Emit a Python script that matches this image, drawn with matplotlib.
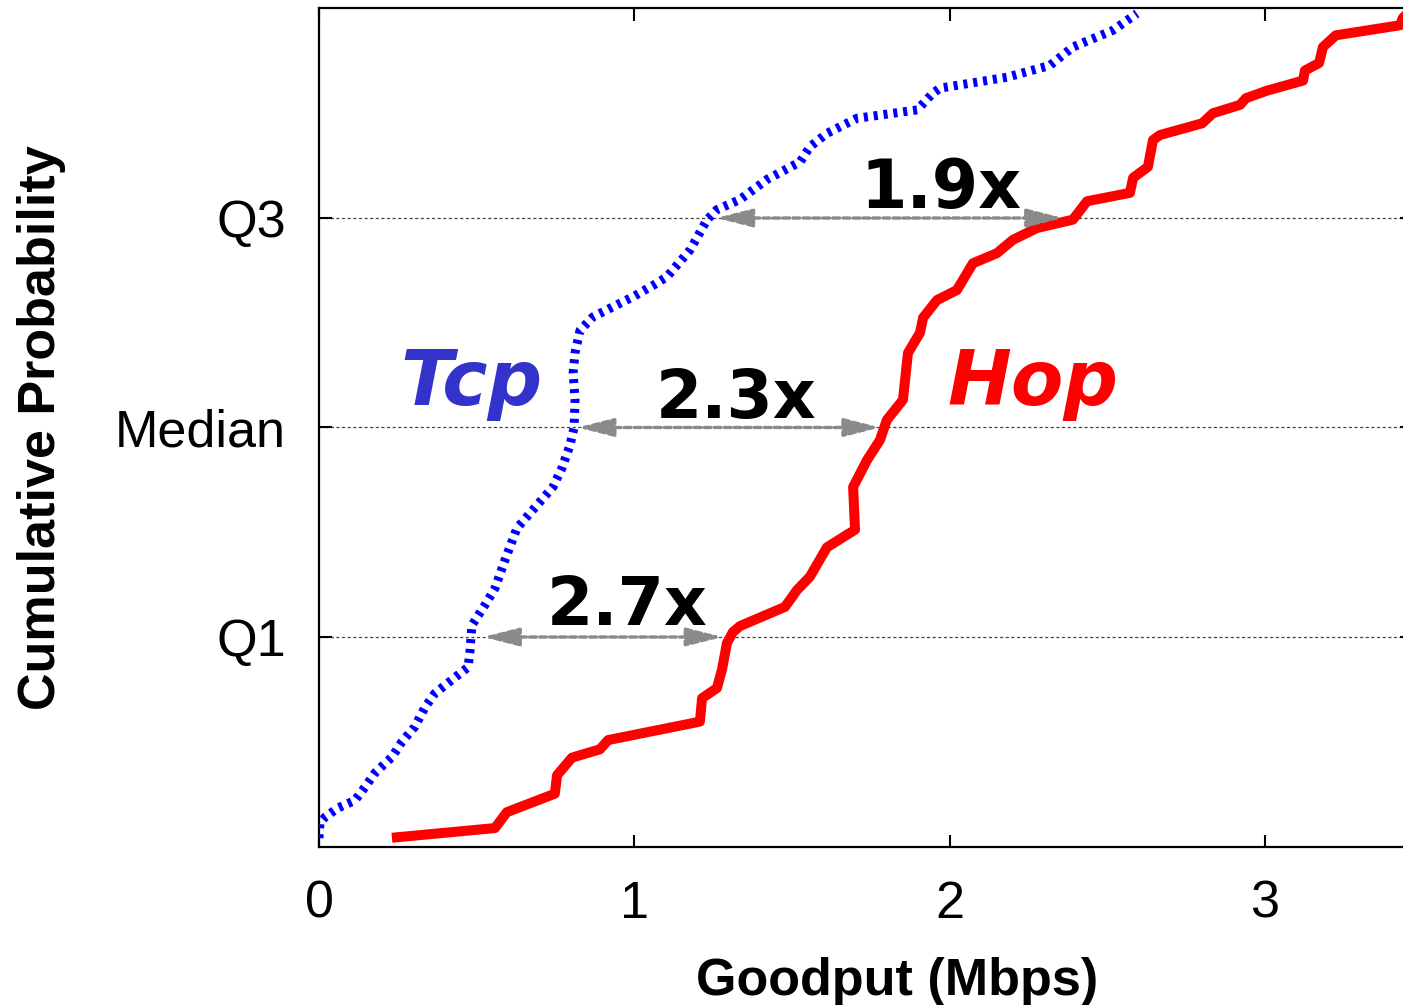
import numpy as np
import matplotlib
matplotlib.use("Agg")
import matplotlib.pyplot as plt

# CDF curves (goodput in Mbps, cumulative probability)
tcp_x = [0.0, 0.003, 0.019, 0.060, 0.114, 0.146, 0.178, 0.232, 0.263, 0.304,
         0.336, 0.368, 0.422, 0.473, 0.479, 0.485, 0.526, 0.558, 0.590, 0.628,
         0.679, 0.742, 0.771, 0.796, 0.809, 0.812, 0.806, 0.812, 0.828, 0.869,
         0.932, 0.996, 1.066, 1.104, 1.177, 1.231, 1.262, 1.335, 1.421, 1.526,
         1.557, 1.611, 1.706, 1.897, 1.947, 1.970, 2.182, 2.318, 2.391, 2.518,
         2.594]
tcp_y = [0.010, 0.028, 0.035, 0.046, 0.055, 0.071, 0.088, 0.107, 0.125, 0.143,
         0.166, 0.183, 0.199, 0.214, 0.234, 0.264, 0.288, 0.308, 0.342, 0.380,
         0.402, 0.429, 0.452, 0.479, 0.500, 0.533, 0.565, 0.589, 0.616, 0.632,
         0.644, 0.656, 0.671, 0.680, 0.712, 0.748, 0.760, 0.772, 0.796, 0.817,
         0.835, 0.851, 0.869, 0.879, 0.899, 0.905, 0.918, 0.932, 0.954, 0.974,
         0.994]

hop_x = [0.247, 0.558, 0.596, 0.748, 0.755, 0.802, 0.891, 0.917, 1.208, 1.215,
         1.262, 1.278, 1.294, 1.313, 1.335, 1.478, 1.516, 1.557, 1.611, 1.700,
         1.694, 1.738, 1.779, 1.801, 1.852, 1.868, 1.906, 1.916, 1.960, 2.023,
         2.074, 2.150, 2.201, 2.277, 2.391, 2.436, 2.572, 2.582, 2.629, 2.645,
         2.667, 2.801, 2.835, 2.921, 2.940, 3.007, 3.121, 3.127, 3.172, 3.184,
         3.225, 3.428, 3.438, 3.470]
hop_y = [0.011, 0.022, 0.041, 0.063, 0.085, 0.106, 0.116, 0.127, 0.149, 0.177,
         0.189, 0.211, 0.243, 0.256, 0.263, 0.286, 0.306, 0.322, 0.357, 0.378,
         0.429, 0.461, 0.485, 0.509, 0.533, 0.589, 0.613, 0.631, 0.652, 0.664,
         0.696, 0.708, 0.724, 0.738, 0.748, 0.770, 0.780, 0.798, 0.811, 0.843,
         0.849, 0.863, 0.875, 0.885, 0.893, 0.902, 0.914, 0.926, 0.935, 0.954,
         0.968, 0.980, 0.989, 1.0]

quantiles = [0.25, 0.5, 0.75]
quantile_labels = ["Q1", "Median", "Q3"]
x_ticks = [0, 1, 2, 3]

# gap arrows between the two curves at each quantile
arrow_lo = [0.52, 0.82, 1.26]
arrow_hi = [1.28, 1.78, 2.36]
ratio_labels = ["2.7x", "2.3x", "1.9x"]

fig = plt.figure(figsize=(14.03, 10.05), dpi=100)
ax = fig.add_axes([319 / 1403, (1005 - 846.5) / 1005, (1412 - 319) / 1403, 838 / 1005])

ax.set_xlim(0, (1412 - 319) / 315.3)
ax.set_ylim(0, 1)

for q in quantiles:
    ax.axhline(q, color="#444444", lw=0.9, ls=(0, (2.5, 2)), zorder=1)

ax.plot(hop_x, hop_y, color="#ff0000", lw=7.2, zorder=3)
ax.plot(tcp_x, tcp_y, color="#0000ff", lw=6.5, ls=(0, (0.45, 0.65)),
        dash_capstyle="butt", zorder=3)

label_x = [0.977, 1.322, 1.973]
label_y = [0.264, 0.511, 0.762]
for lo, hi, q, txt, tx, ty in zip(arrow_lo, arrow_hi, quantiles, ratio_labels, label_x, label_y):
    ax.text(tx, ty, txt, ha="center", va="baseline", fontsize=48,
            fontweight="bold", family="DejaVu Sans", color="black", zorder=2)
    ax.annotate("", xy=(hi, q), xytext=(lo, q),
                arrowprops=dict(arrowstyle="<|-|>,head_length=1.1,head_width=0.28",
                                mutation_scale=20, color="#8a8a8a", lw=2.4,
                                ls=(0, (2, 1)), shrinkA=0, shrinkB=0),
                zorder=4)

ax.text(0.482, 0.527, "Tcp", color="#3333cc", fontsize=55, fontweight="bold",
        style="italic", family="DejaVu Sans", ha="center", va="baseline")
ax.text(2.264, 0.527, "Hop", color="#ff0000", fontsize=55, fontweight="bold",
        style="italic", family="DejaVu Sans", ha="center", va="baseline")

ax.set_xticks(x_ticks)
ax.set_xticklabels([str(t) for t in x_ticks])
ax.set_yticks(quantiles)
ax.set_yticklabels(quantile_labels)
ax.tick_params(direction="in", length=9, width=1.5, top=True, right=True,
               labelsize=37.5, pad=24)
for lab in ax.get_xticklabels() + ax.get_yticklabels():
    lab.set_family("Liberation Sans")
for sp in ax.spines.values():
    sp.set_linewidth(1.6)

fig.text(897 / 1403, 1 - 981 / 1005, "Goodput (Mbps)", ha="center", va="center",
         fontsize=37.5, fontweight="bold", family="Liberation Sans")
fig.text(42 / 1403, 1 - 428 / 1005, "Cumulative Probability", ha="center",
         va="center", rotation=90, fontsize=37.5, fontweight="bold",
         family="Liberation Sans")

fig.savefig("out.png", dpi=100)
